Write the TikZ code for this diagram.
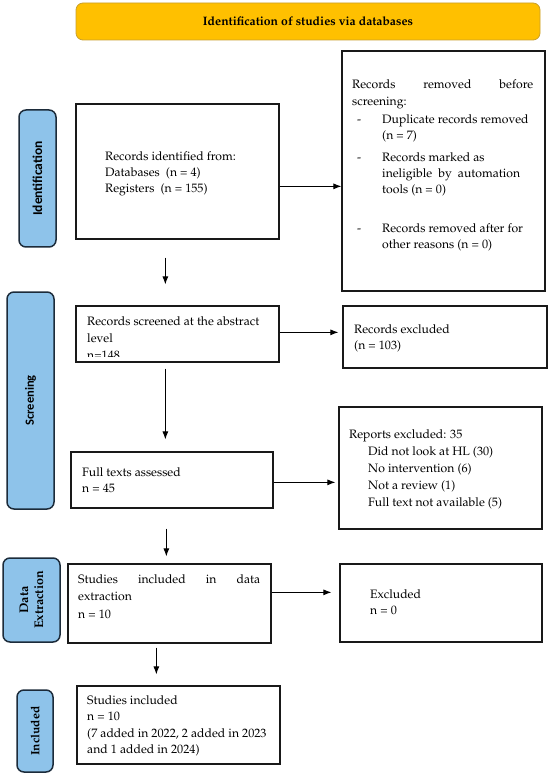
\documentclass[tikz,border=0pt]{standalone}
\usepackage[T1]{fontenc}
\usepackage{fontspec}
\newfontfamily\carlito{Carlito}
\newcommand\palfont{\fontencoding{T1}\fontfamily{ppl}\selectfont}
\usetikzlibrary{arrows.meta,calc}
\definecolor{hdr}{HTML}{FFC000}
\definecolor{hdrline}{HTML}{C9A02E}
\definecolor{side}{HTML}{8EC3EA}
\definecolor{sideline}{HTML}{1C2B3A}
\tikzset{
 box/.style={draw=black!90, line width=1.3pt, rectangle, inner sep=0pt},
 sidebar/.style={draw=sideline, fill=side, line width=1.5pt, rounded corners=7pt, inner sep=0pt},
 txt/.style={anchor=north west, inner sep=0pt, align=left, font=\palfont\fontsize{12.2}{16.3}\selectfont},
 arr/.style={-{Latex[length=8pt,width=6pt]}, line width=0.8pt},
 sidetxt/.style={rotate=90, font=\carlito\bfseries\fontsize{12.5}{14}\selectfont, inner sep=0pt},
 sidetxtser/.style={rotate=90, align=center, font=\palfont\bfseries\fontsize{12}{15}\selectfont, inner sep=0pt},
}
\begin{document}
\begin{tikzpicture}[x=1pt,y=-1pt]
\useasboundingbox (0,0) rectangle (550,775);
% header
\node[draw=hdrline, fill=hdr, line width=0.8pt, rounded corners=7pt, minimum width=464pt, minimum height=37pt, inner sep=0pt,
      font=\palfont\bfseries\fontsize{12.2}{14}\selectfont] (hd) at (308,21.5) {Identification of studies via databases};
% sidebars
\node[sidebar, minimum width=37pt, minimum height=137pt] (s1) at (37.5,178.5) {};
\node[sidetxt, font=\carlito\bfseries\fontsize{13.5}{14}\selectfont] (t1) at (s1.center) {Identification};
\node[sidebar, minimum width=47pt, minimum height=217pt] (s2) at (30.5,400.5) {};
\node[sidetxt] (t2) at (s2.center) {Screening};
\node[sidebar, minimum width=57pt, minimum height=84pt] (s3) at (31.5,600) {};
\node[sidetxtser, font=\palfont\bfseries\fontsize{12.5}{15}\selectfont] (t3) at (s3.center) {Data\\Extraction};
\node[sidebar, minimum width=36pt, minimum height=82pt] (s4) at (35,731) {};
\node[sidetxtser] (t4) at (s4.center) {Included};
% boxes
\node[box, minimum width=203pt, minimum height=135pt] (b1) at (177.5,171.5) {};
\node[box, minimum width=203pt, minimum height=240pt] (rem) at (443.5,171) {};
\node[box, minimum width=203pt, minimum height=56pt] (scr) at (177.5,334) {};
\node[box, minimum width=204pt, minimum height=62pt] (exc1) at (445,337) {};
\node[box, minimum width=202pt, minimum height=56pt] (full) at (172,480) {};
\node[box, minimum width=203pt, minimum height=122pt] (rep) at (440.5,468) {};
\node[box, minimum width=203pt, minimum height=79pt] (de) at (169.5,603.5) {};
\node[box, minimum width=202pt, minimum height=78pt] (ex2) at (441,603) {};
\node[box, minimum width=203pt, minimum height=78pt] (inc) at (178.5,725) {};
% texts
\node[txt] (tb1) at (105,151) {Records identified from:\\Databases~~(n = 4)\\Registers~~(n = 155)};
\node[txt] (trem) at (352,79) {\makebox[181pt][s]{Records removed before}\\[1pt]
screening:\\[2pt]
\makebox[30pt][l]{\hspace*{5pt}-}Duplicate records removed\\
\hspace*{30pt}(n = 7)\\[5pt]
\makebox[30pt][l]{\hspace*{5pt}-}Records marked as\\
\hspace*{30pt}ineligible~~by~~automation\\
\hspace*{30pt}tools (n = 0)\\[22pt]
\makebox[30pt][l]{\hspace*{5pt}-}Records removed after for\\
\hspace*{30pt}other reasons (n = 0)};
\begin{scope}
\clip (scr.north west) rectangle ($(scr.south east)+(0,-6)$);
\node[txt, font=\palfont\fontsize{12.2}{17}\selectfont] (tscr) at (87,316) {Records screened at the abstract\\level\\n=148};
\end{scope}
\node[txt] (texc1) at (354,324) {Records excluded\\(n = 103)};
\node[txt] (tfull) at (82,467) {Full texts assessed\\n = 45};
\node[txt, font=\palfont\fontsize{12.2}{17}\selectfont] (trep) at (349,429) {Reports excluded: 35\\
\hspace*{19pt}Did not look at HL (30)\\
\hspace*{19pt}No intervention (6)\\
\hspace*{19pt}Not a review (1)\\
\hspace*{19pt}Full text not available (5)};
\node[txt, font=\palfont\fontsize{12.2}{17.5}\selectfont] (tde) at (78,574) {\makebox[182pt][s]{Studies included in data}\\extraction\\n = 10};
\node[txt] (tex2) at (370,589) {Excluded\\n = 0};
\node[txt, font=\palfont\fontsize{12.2}{16.6}\selectfont] (tinc) at (87,695) {Studies included\\n = 10\\(7 added in 2022, 2 added in 2023\\and 1 added in 2024)};
% arrows
\draw[arr] ($(b1.north east)+(0,83)$) -- ($(rem.north west)+(0,136)$);
\draw[arr, shorten <=18pt, shorten >=21pt] ($(b1.south west)+(90,0)$) -- ($(scr.north west)+(90,0)$);
\draw[arr, shorten >=4pt] ($(scr.north east)+(0,27)$) -- ($(exc1.north west)+(0,27)$);
\draw[arr, shorten <=6pt, shorten >=12pt] ($(scr.south west)+(90,0)$) -- ($(full.north west)+(95,0)$);
\draw[arr, shorten >=3pt] ($(full.north east)+(0,31)$) -- ($(rep.north west)+(0,76)$);
\draw[arr, shorten <=20pt, shorten >=7pt] ($(full.south west)+(96,0)$) -- ($(de.north west)+(99,0)$);
\draw[arr, shorten >=8pt] ($(de.north east)+(0,29)$) -- ($(ex2.north west)+(0,29)$);
\draw[arr, shorten <=4pt, shorten >=11pt] ($(de.south west)+(89,0)$) -- ($(inc.north west)+(80,0)$);
\end{tikzpicture}
\end{document}
